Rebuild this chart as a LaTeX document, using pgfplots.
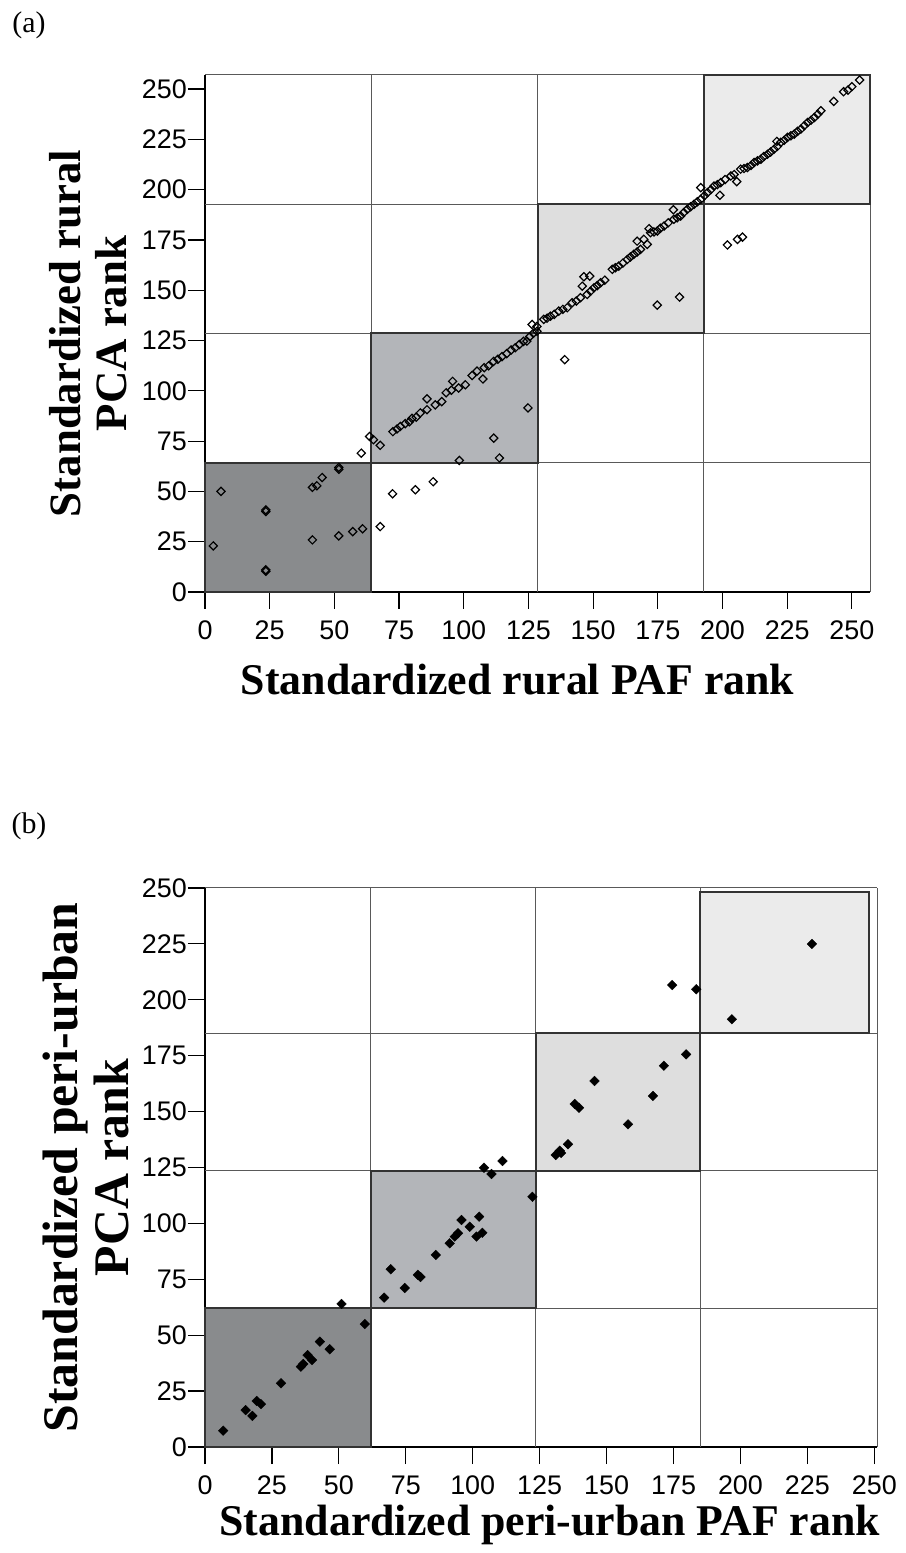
\documentclass[border=0pt]{standalone}
\usepackage{fontspec}
\setmainfont{Liberation Serif}
\newfontfamily\arial{Liberation Sans}
\usepackage{pgfplots}
\pgfplotsset{compat=1.18}
\definecolor{q1}{HTML}{898B8D}
\definecolor{q2}{HTML}{B3B5B9}
\definecolor{q3}{HTML}{DEDEDE}
\definecolor{q4}{HTML}{EBEBEB}
\definecolor{edge}{HTML}{333333}
\pgfplotsset{rank/.style={
  scale only axis, clip=false,
  axis x line*=bottom, axis y line*=left,
  axis line style={black, line width=1.2bp, -},
  tick align=outside, major tick length=17bp,
  tick style={black, line width=1.2bp},
  xtick={0,25,...,250}, ytick={0,25,...,250},
  ticklabel style={font=\arial\fontsize{27}{27}\selectfont},
  yticklabel style={inner xsep=1bp},
  xticklabel style={yshift=-8bp},
  /pgf/number format/assume math mode=true,
  grid style={black!65, line width=1bp},
  extra x tick labels={}, extra y tick labels={},
  extra tick style={grid=major, major tick length=0pt},
}}
\begin{document}
\begin{tikzpicture}
\useasboundingbox (0,0) rectangle (906bp,1553bp);
\node[font=\fontsize{30}{30}\selectfont] at (29bp,1528bp) {(a)};
\node[font=\fontsize{30}{30}\selectfont] at (29bp,727bp) {(b)};

% ---- (a) rural
\begin{axis}[rank, at={(205bp,961bp)}, anchor=south west,
  width=665bp, height=517bp,
  xmin=0, xmax=257, ymin=0, ymax=257,
  extra x ticks={64.25,128.5,192.75,257},
  extra y ticks={64.25,128.5,192.75,257},
  xlabel={Standardized rural PAF rank},
  ylabel={Standardized rural\\PCA rank},
  xlabel style={at={(axis description cs:0.47,-0.17)}, anchor=center, font=\bfseries\fontsize{44}{48}\selectfont},
  ylabel style={at={(axis description cs:-0.176,0.5)}, anchor=center, align=center, font=\bfseries\fontsize{45}{46}\selectfont},
]
\addplot[draw=edge, line width=2bp, fill=q1] coordinates {(0,0) (64.25,0) (64.25,64.25) (0,64.25)} -- cycle;
\addplot[draw=edge, line width=2bp, fill=q2] coordinates {(64.25,64.25) (128.5,64.25) (128.5,128.5) (64.25,128.5)} -- cycle;
\addplot[draw=edge, line width=2bp, fill=q3] coordinates {(128.5,128.5) (192.75,128.5) (192.75,192.75) (128.5,192.75)} -- cycle;
\addplot[draw=edge, line width=2bp, fill=q4] coordinates {(192.75,192.75) (257,192.75) (257,257) (192.75,257)} -- cycle;
\addplot[only marks, mark=square, mark size=2.9bp,
  mark options={rotate=45, draw=black, line width=1.2bp, fill=none}] coordinates {
(3.2,22.9) (6.2,50) (23.5,40.8) (23.5,40) (23.5,11) (23.5,10.3)
(41.5,52) (43.2,52.8) (45.3,56.9) (51.7,61.9) (51.7,61) (41.5,25.9)
(51.7,27.9) (57.1,30) (60.9,31.4) (60.4,69) (67.7,32.5) (72.5,48.8)
(81.3,50.8) (88.2,54.8) (98.3,65.4) (111.6,76.5) (113.8,66.6) (124.8,91.5)
(139,115.5) (174.8,142.6) (183.4,146.6) (201.9,172.5) (205.8,175.3) (207.7,176.4)
(63.6,77.3) (65.1,75.7) (67.7,72.9) (72.6,79.7) (74.2,81) (75.5,82.3)
(77.4,83.7) (79,84.6) (80,86.3) (81.6,86.9) (83.2,89) (85.8,96)
(85.8,90.6) (89,93) (91.5,94.6) (93.2,99) (95.2,100.3) (95.7,104.7)
(98,101.4) (100.6,103) (103.2,107.6) (105.1,109.8) (107.4,105.9) (107.9,111.5)
(109.6,112.4) (111.5,114.6) (113.2,115.7) (114.8,117) (116.6,118.5) (118.3,120.3)
(119.9,121.4) (121.5,123) (123.1,124.6) (124.4,124.7) (125.5,126.9) (126.4,133)
(126.9,128.6) (128.3,132) (128.3,129.6)
(130.9,135.5) (132.2,136.1) (133.5,137.1) (135,138) (136.7,139.6) (138.3,140.5)
(140,141.3) (141.9,143.8) (143.5,144.6) (145.1,146.3) (145.8,152) (146.4,156.7)
(147.7,147.9) (148.7,157) (149,149.5) (150.3,151.2) (151.6,152.3) (152.9,153.7)
(154.5,155) (157.4,160.4) (158.6,161.2) (159.9,162) (161.5,163.5) (163.2,165.3)
(164.4,166.5) (165.7,167.8) (167,174.4) (167,169) (168.3,170.3) (169.6,175.3)
(170.9,172.8) (171.6,180.6) (172.2,178.6) (173.5,179) (174.8,179.4) (176,180.8)
(177.4,181.9) (179,183.5) (181,190) (181.2,185.3) (182.5,186) (183.8,186.9)
(185,188.6) (186.4,190.2) (187.7,191.5) (189,192.7) (190.3,194) (191.6,195.2)
(191.6,201) (193,197) (194.2,198.5) (195.5,200) (196.7,201.8) (198,202.5)
(199,197.2) (199.3,203.5) (201,205) (203.2,206.8) (204.5,207.5) (205.5,204)
(207,210.2) (208.3,210.5) (209.6,211) (211,212) (212.2,213.5) (213.5,214.3)
(214.8,215.1) (216,216.5) (217.4,217.6) (218.6,218.7) (219.9,220.1) (221,224)
(221.2,221.5) (222.5,223.5) (223.8,224.5) (225.1,226) (226.4,226.8) (227.7,227.6)
(229,229) (230.3,230.1) (231.6,231.8) (232.9,233.4) (234.2,234.5) (235.5,235.9)
(236.8,237.5) (238,239.2) (243,243.9) (246.8,248.7) (248.5,249.5) (250,251.2)
(253,254.5)
};
\end{axis}

% ---- (b) peri-urban
\begin{axis}[rank, at={(205bp,106bp)}, anchor=south west,
  width=672bp, height=559bp,
  xmin=0, xmax=251, ymin=0, ymax=250,
  extra x ticks={62,123.5,185,251},
  extra y ticks={62,123.5,185,250},
  xlabel={Standardized peri-urban PAF rank},
  ylabel={Standardized peri-urban\\PCA rank},
  xlabel style={at={(axis description cs:0.513,-0.14)}, anchor=center, font=\bfseries\fontsize{44}{48}\selectfont},
  ylabel style={at={(axis description cs:-0.177,0.5)}, anchor=center, align=center, font=\bfseries\fontsize{50}{52}\selectfont},
]
\addplot[draw=edge, line width=2bp, fill=q1] coordinates {(0,0) (62,0) (62,62) (0,62)} -- cycle;
\addplot[draw=edge, line width=2bp, fill=q2] coordinates {(62,62) (123.5,62) (123.5,123.5) (62,123.5)} -- cycle;
\addplot[draw=edge, line width=2bp, fill=q3] coordinates {(123.5,123.5) (185,123.5) (185,185) (123.5,185)} -- cycle;
\addplot[draw=edge, line width=2bp, fill=q4] coordinates {(185,185) (248,185) (248,248) (185,248)} -- cycle;
\addplot[only marks, mark=square*, mark size=3.4bp,
  mark options={rotate=45, draw=black, fill=black}] coordinates {
(6.8,7.3) (15.2,16.5) (17.7,13.9) (19.3,20.6) (20.9,19.2) (28.4,28.5)
(35.8,35.9) (36.7,37.1) (38.3,41.1) (40,38.9) (42.9,47.1) (46.6,43.7)
(51,64) (59.7,55) (66.9,66.8) (69.4,79.5) (74.6,71.1) (79.5,77)
(80.5,76) (86.2,85.9) (91.4,91.1) (93.3,94.1) (94.5,95.6) (95.8,101.5)
(98.9,98.5) (102.4,103) (101.4,94.1) (103.6,95.8) (104.2,124.9) (107,122.1)
(111.1,127.9) (122.3,111.9) (131,130.6) (132.5,132.5) (133,131.5) (135.6,135.4)
(138.1,153.4) (139.7,151.7) (145.5,163.7) (158,144.3) (167.3,157) (171.4,170.5)
(179.7,175.6) (174.5,206.6) (183.5,204.7) (196.8,191.3) (226.7,225)
};
\end{axis}
\end{tikzpicture}
\end{document}
